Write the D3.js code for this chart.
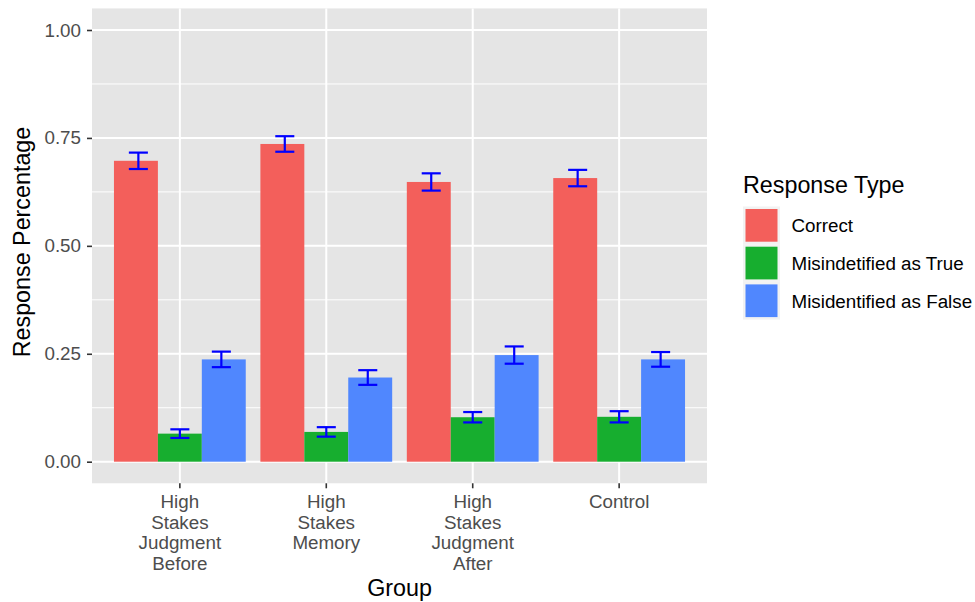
<!DOCTYPE html>
<html>
<head>
<meta charset="utf-8">
<script src="https://cdn.jsdelivr.net/npm/d3@7"></script>
<style>
  html, body { margin: 0; padding: 0; background: #fff; }
  svg { display: block; font-family: "Liberation Sans", Arial, Helvetica, sans-serif; }
</style>
</head>
<body>
<svg id="chart" width="975" height="602"></svg>
<script>
// Groups (x categories) and their wrapped tick labels
const groups = ["High Stakes Judgment Before", "High Stakes Memory", "High Stakes Judgment After", "Control"];
const groupLabels = [
  ["High", "Stakes", "Judgment", "Before"],
  ["High", "Stakes", "Memory"],
  ["High", "Stakes", "Judgment", "After"],
  ["Control"]
];

// Response types (fill legend)
const types = ["Correct", "Misindetified as True", "Misidentified as False"];
const typeColors = ["#F35F5B", "#17AE2F", "#5087FE"];

// Mean response proportions per group
const correct  = [0.697, 0.736, 0.648, 0.657];
const misTrue  = [0.065, 0.069, 0.103, 0.104];
const misFalse = [0.237, 0.195, 0.247, 0.237];

// Standard errors per group
const seCorrect  = [0.019, 0.018, 0.020, 0.019];
const seMisTrue  = [0.010, 0.011, 0.012, 0.013];
const seMisFalse = [0.018, 0.017, 0.020, 0.017];

// Y axis ticks
const yTicks = [0, 0.25, 0.5, 0.75, 1];
const yMinor = [0.125, 0.375, 0.625, 0.875];

const means = [correct, misTrue, misFalse];
const ses = [seCorrect, seMisTrue, seMisFalse];
const rows = [];
groups.forEach((g, gi) => {
  types.forEach((t, ti) => {
    rows.push({ group: g, type: t, value: means[ti][gi], se: ses[ti][gi] });
  });
});

const svg = d3.select("#chart");
const tickFont = 18.8, titleFont = 23.3;

const panel = { left: 92, right: 707 };
const y = d3.scaleLinear().domain([0, 1]).range([461.7, 30]);
const panelTop = y(1.05), panelBottom = y(-0.05);

const x = d3.scaleBand().domain(groups).range([panel.left, panel.right])
  .paddingInner(0.1).paddingOuter(0.15);
const step = x.step();
const xSub = d3.scaleBand().domain(types).range([0, x.bandwidth()]);
// error bars are dodged slightly narrower than the bars
const xErr = d3.scaleBand().domain(types).range([-0.425 * step, 0.425 * step]);
const capHalf = 0.065 * step;
const color = d3.scaleOrdinal().domain(types).range(typeColors);

// Panel background
svg.append("rect")
  .attr("x", panel.left).attr("y", panelTop)
  .attr("width", panel.right - panel.left).attr("height", panelBottom - panelTop)
  .attr("fill", "#E5E5E5");

// Grid lines
const grid = svg.append("g");
grid.selectAll(".minor").data(yMinor).join("line")
  .attr("x1", panel.left).attr("x2", panel.right)
  .attr("y1", d => y(d)).attr("y2", d => y(d))
  .attr("stroke", "#fff").attr("stroke-width", 1);
grid.selectAll(".major").data(yTicks).join("line")
  .attr("x1", panel.left).attr("x2", panel.right)
  .attr("y1", d => y(d)).attr("y2", d => y(d))
  .attr("stroke", "#fff").attr("stroke-width", 2);
grid.selectAll(".vmajor").data(groups).join("line")
  .attr("x1", d => x(d) + x.bandwidth() / 2).attr("x2", d => x(d) + x.bandwidth() / 2)
  .attr("y1", panelTop).attr("y2", panelBottom)
  .attr("stroke", "#fff").attr("stroke-width", 2);

// Bars
svg.append("g").selectAll("rect").data(rows).join("rect")
  .attr("x", d => x(d.group) + xSub(d.type))
  .attr("width", xSub.bandwidth())
  .attr("y", d => y(d.value))
  .attr("height", d => y(0) - y(d.value))
  .attr("fill", d => color(d.type));

// Error bars
const errCx = d => x(d.group) + x.bandwidth() / 2 + xErr(d.type) + xErr.bandwidth() / 2;
const eb = svg.append("g").attr("stroke", "#0000FF").attr("stroke-width", 2.2).attr("fill", "none");
eb.selectAll(".v").data(rows).join("line")
  .attr("x1", errCx).attr("x2", errCx)
  .attr("y1", d => y(d.value + d.se)).attr("y2", d => y(d.value - d.se));
eb.selectAll(".top").data(rows).join("line")
  .attr("x1", d => errCx(d) - capHalf).attr("x2", d => errCx(d) + capHalf)
  .attr("y1", d => y(d.value + d.se)).attr("y2", d => y(d.value + d.se));
eb.selectAll(".bot").data(rows).join("line")
  .attr("x1", d => errCx(d) - capHalf).attr("x2", d => errCx(d) + capHalf)
  .attr("y1", d => y(d.value - d.se)).attr("y2", d => y(d.value - d.se));

// Y axis
const yAxis = svg.append("g").attr("transform", `translate(${panel.left},0)`)
  .call(d3.axisLeft(y).tickValues(yTicks).tickFormat(d3.format(".2f")).tickSize(5).tickPadding(6));
yAxis.select(".domain").remove();
yAxis.selectAll(".tick line").attr("stroke", "#333").attr("stroke-width", 1.6);
yAxis.selectAll(".tick text").attr("fill", "#4D4D4D").attr("font-size", tickFont)
  .attr("font-family", "Liberation Sans, Arial, sans-serif");

// X axis
const xAxis = svg.append("g").attr("transform", `translate(0,${panelBottom})`)
  .call(d3.axisBottom(x).tickSize(5).tickFormat(""));
xAxis.select(".domain").remove();
xAxis.selectAll(".tick line").attr("stroke", "#333").attr("stroke-width", 1.6);
xAxis.selectAll(".tick").each(function(d, i) {
  const t = d3.select(this).select("text")
    .attr("fill", "#4D4D4D").attr("font-size", tickFont)
    .attr("font-family", "Liberation Sans, Arial, sans-serif")
    .attr("text-anchor", "middle").attr("y", 0).attr("dy", null);
  groupLabels[i].forEach((line, li) => {
    t.append("tspan").attr("x", 0).attr("y", 24.7 + li * 20.7).text(line);
  });
});

// Axis titles
svg.append("text")
  .attr("x", (panel.left + panel.right) / 2).attr("y", 596)
  .attr("text-anchor", "middle").attr("font-size", titleFont).attr("fill", "#000")
  .text("Group");
svg.append("text")
  .attr("transform", `translate(30,242) rotate(-90)`)
  .attr("text-anchor", "middle").attr("font-size", titleFont).attr("fill", "#000")
  .text("Response Percentage");

// Legend
const legend = svg.append("g").attr("transform", "translate(743,0)");
legend.append("text").attr("x", 0).attr("y", 192.5)
  .attr("font-size", titleFont).attr("fill", "#000").text("Response Type");
const keyH = 37.7, keyTop = 206.5;
const keys = legend.selectAll(".key").data(types).join("g")
  .attr("transform", (d, i) => `translate(0,${keyTop + i * keyH})`);
keys.append("rect").attr("x", 0).attr("y", 0).attr("width", 37).attr("height", keyH)
  .attr("fill", "#F2F2F2");
keys.append("rect").attr("x", 2.5).attr("y", 2.5).attr("width", 32).attr("height", keyH - 5)
  .attr("fill", d => color(d));
keys.append("text").attr("x", 48.5).attr("y", keyH / 2).attr("dy", "0.36em")
  .attr("font-size", tickFont).attr("fill", "#000").text(d => d);
</script>
</body>
</html>
